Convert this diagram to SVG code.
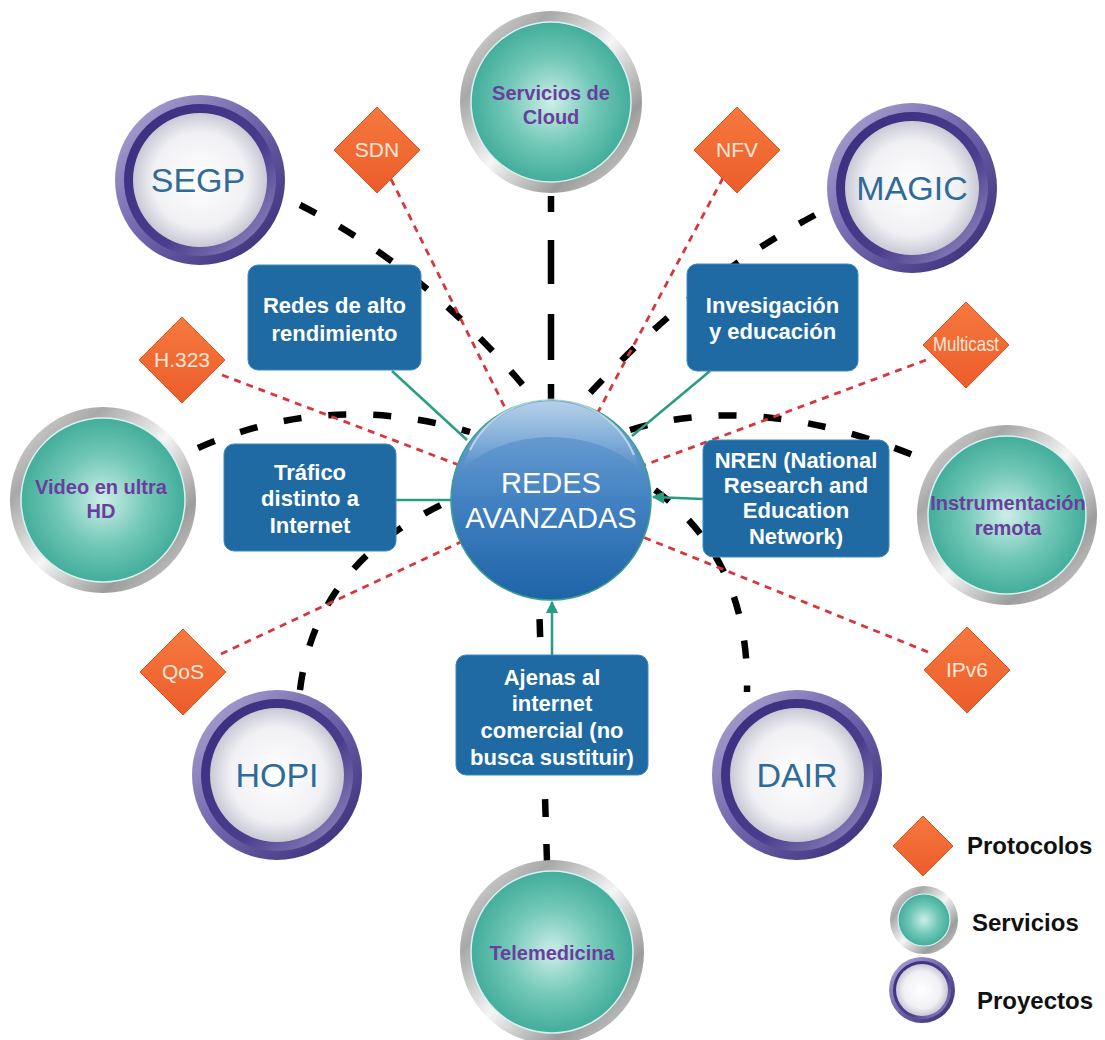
<svg xmlns="http://www.w3.org/2000/svg" width="1105" height="1040" viewBox="0 0 1105 1040">
  <defs>
    <linearGradient id="silver" x1="0" y1="0" x2="1" y2="1">
      <stop offset="0" stop-color="#e8e8e8"/>
      <stop offset="0.25" stop-color="#a8a8a8"/>
      <stop offset="0.5" stop-color="#f6f6f6"/>
      <stop offset="0.75" stop-color="#9c9c9c"/>
      <stop offset="1" stop-color="#dcdcdc"/>
    </linearGradient>
    <radialGradient id="teal" cx="0.5" cy="0.5" r="0.5">
      <stop offset="0" stop-color="#cdeee8"/>
      <stop offset="0.55" stop-color="#72c8b7"/>
      <stop offset="1" stop-color="#43ad9b"/>
    </radialGradient>
    <linearGradient id="purpleOuter" x1="0" y1="0" x2="1" y2="1">
      <stop offset="0" stop-color="#b3abd6"/>
      <stop offset="0.5" stop-color="#6e62aa"/>
      <stop offset="1" stop-color="#332571"/>
    </linearGradient>
    <linearGradient id="purpleInner" x1="0" y1="0" x2="1" y2="1">
      <stop offset="0" stop-color="#3a2c7d"/>
      <stop offset="0.6" stop-color="#4b3d8d"/>
      <stop offset="1" stop-color="#9d95c8"/>
    </linearGradient>
    <radialGradient id="pearl" cx="0.5" cy="0.5" r="0.5">
      <stop offset="0" stop-color="#ffffff"/>
      <stop offset="0.7" stop-color="#f1f1f5"/>
      <stop offset="1" stop-color="#c9c9d5"/>
    </radialGradient>
    <linearGradient id="hub" x1="0" y1="0" x2="0" y2="1">
      <stop offset="0" stop-color="#7aa9d8"/>
      <stop offset="0.5" stop-color="#4382c2"/>
      <stop offset="1" stop-color="#1d64a8"/>
    </linearGradient>
    <linearGradient id="gloss" x1="0" y1="0" x2="0" y2="1">
      <stop offset="0" stop-color="#ffffff" stop-opacity="0.45"/>
      <stop offset="1" stop-color="#ffffff" stop-opacity="0"/>
    </linearGradient>
    <linearGradient id="orange" x1="0" y1="0" x2="0" y2="1">
      <stop offset="0" stop-color="#f6793f"/>
      <stop offset="1" stop-color="#ec5c2a"/>
    </linearGradient>
    <marker id="arrow" viewBox="0 0 10 10" refX="9" refY="5" markerWidth="5" markerHeight="5" orient="auto">
      <path d="M0,0 L10,5 L0,10 z" fill="#2a9c82"/>
    </marker>
    <style>
      .blk { fill: none; stroke: #000; stroke-width: 6.5; stroke-dasharray: 18 27; }
      .red { fill: none; stroke: #d8353c; stroke-width: 2.8; stroke-dasharray: 7 6; }
      .grn { fill: none; stroke: #2a9c82; stroke-width: 2.5; }
      .box { fill: #1f6aa3; stroke: #3d88c0; stroke-width: 1; }
      .boxt { font-family: "Liberation Sans", Arial, sans-serif; font-weight: bold; font-size: 22px; fill: #ffffff; text-anchor: middle; }
      .svct { font-family: "Liberation Sans", Arial, sans-serif; font-weight: bold; font-size: 20px; fill: #6a3e9f; text-anchor: middle; }
      .prjt { font-family: "Liberation Sans", Arial, sans-serif; font-size: 34px; fill: #2f6b98; text-anchor: middle; }
      .dmt { font-family: "Liberation Sans", Arial, sans-serif; font-size: 21px; fill: #fde6d8; text-anchor: middle; }
      .dm { fill: url(#orange); stroke: #dc5522; stroke-width: 1; }
      .legt { font-family: "Liberation Sans", Arial, sans-serif; font-weight: bold; font-size: 24px; fill: #111; }
    </style>
  </defs>

  <rect width="1105" height="1040" fill="#ffffff"/>

  <!-- connectors -->
  <g id="connectors">
    <!-- black dashed links -->
    <path class="blk" d="M300,205 Q430,270 537,402"/>
    <path class="blk" d="M551,196 L551,402" style="stroke-dasharray: 16 28 44 30 46 24"/>
    <path class="blk" d="M815,215 Q690,282 580,404"/>
    <path class="blk" d="M198,448 Q330,390 470,432"/>
    <path class="blk" d="M630,430 Q760,390 925,460"/>
    <path class="blk" d="M300,690 Q315,565 445,503"/>
    <path class="blk" d="M655,490 Q750,560 747,692"/>
    <path class="blk" d="M547,862 L539,600"/>
    <!-- red dashed protocol links -->
    <path class="red" d="M391,179 L551,500"/>
    <path class="red" d="M723,178 L551,500"/>
    <path class="red" d="M222,375 L551,500"/>
    <path class="red" d="M926,360 L551,500"/>
    <path class="red" d="M221,654 L551,500"/>
    <path class="red" d="M928,652 L551,500"/>
    <!-- green links -->
    <path class="grn" d="M392,371 L467,440"/>
    <path class="grn" d="M710,371 L632,436"/>
    <path class="grn" d="M396,500 L455,500"/>
    <path class="grn" d="M703,499 L653,497" marker-end="url(#arrow)"/>
    <path class="grn" d="M552,655 L552,602" marker-end="url(#arrow)"/>
  </g>

  <!-- boxes -->
  <g id="box-redes">
    <rect class="box" x="248" y="265" width="173" height="105" rx="10"/>
    <text class="boxt" x="334.5" y="313">Redes de alto</text>
    <text class="boxt" x="334.5" y="341">rendimiento</text>
  </g>
  <g id="box-investigacion">
    <rect class="box" x="687" y="264" width="171" height="107" rx="10"/>
    <text class="boxt" x="772.5" y="313">Invesigación</text>
    <text class="boxt" x="772.5" y="339">y educación</text>
  </g>
  <g id="box-trafico">
    <rect class="box" x="224" y="444" width="172" height="107" rx="10"/>
    <text class="boxt" x="310" y="480">Tráfico</text>
    <text class="boxt" x="310" y="506">distinto a</text>
    <text class="boxt" x="310" y="533">Internet</text>
  </g>
  <g id="box-nren">
    <rect class="box" x="703" y="440" width="186" height="117" rx="10"/>
    <text class="boxt" x="796" y="468">NREN (National</text>
    <text class="boxt" x="796" y="493">Research and</text>
    <text class="boxt" x="796" y="518">Education</text>
    <text class="boxt" x="796" y="544">Network)</text>
  </g>
  <g id="box-ajenas">
    <rect class="box" x="456" y="655" width="192" height="120" rx="10"/>
    <text class="boxt" x="552" y="685">Ajenas al</text>
    <text class="boxt" x="552" y="711">internet</text>
    <text class="boxt" x="552" y="738">comercial (no</text>
    <text class="boxt" x="552" y="765">busca sustituir)</text>
  </g>

  <!-- central hub -->
  <g id="hub-redes-avanzadas">
    <circle cx="551" cy="500" r="100" fill="url(#hub)" stroke="#3aa08a" stroke-width="1.5"/>
    <path d="M462,470 A92,92 0 0 1 640,470 A110,80 0 0 0 462,470 z" fill="url(#gloss)"/>
    <path d="M470,450 A90,90 0 0 1 634,455" fill="none" stroke="#ffffff" stroke-opacity="0.55" stroke-width="2"/>
    <text x="551" y="493" font-family="Liberation Sans, Arial, sans-serif" font-size="29" fill="#ffffff" text-anchor="middle">REDES</text>
    <text x="551" y="528" font-family="Liberation Sans, Arial, sans-serif" font-size="29" fill="#ffffff" text-anchor="middle">AVANZADAS</text>
  </g>

  <!-- services -->
  <g id="svc-cloud">
    <circle cx="551" cy="102" r="91" fill="url(#silver)"/>
    <circle cx="551" cy="102" r="80" fill="url(#teal)" stroke="#d6f3ee" stroke-width="1.5"/>
    <text class="svct" x="551" y="100">Servicios de</text>
    <text class="svct" x="551" y="124">Cloud</text>
  </g>
  <g id="svc-video">
    <circle cx="103" cy="500" r="93" fill="url(#silver)"/>
    <circle cx="103" cy="500" r="82" fill="url(#teal)" stroke="#d6f3ee" stroke-width="1.5"/>
    <text class="svct" x="101" y="494">Video en ultra</text>
    <text class="svct" x="101" y="518">HD</text>
  </g>
  <g id="svc-instrumentacion">
    <circle cx="1007" cy="515" r="90" fill="url(#silver)"/>
    <circle cx="1007" cy="515" r="79" fill="url(#teal)" stroke="#d6f3ee" stroke-width="1.5"/>
    <text class="svct" x="1008" y="510">Instrumentación</text>
    <text class="svct" x="1008" y="535">remota</text>
  </g>
  <g id="svc-telemedicina">
    <circle cx="552" cy="952" r="92" fill="url(#silver)"/>
    <circle cx="552" cy="952" r="81" fill="url(#teal)" stroke="#d6f3ee" stroke-width="1.5"/>
    <text class="svct" x="552" y="960">Telemedicina</text>
  </g>

  <!-- projects -->
  <g id="prj-segp">
    <circle cx="200" cy="180" r="85" fill="url(#purpleOuter)"/>
    <circle cx="200" cy="180" r="76" fill="url(#purpleInner)"/>
    <circle cx="200" cy="180" r="67" fill="url(#pearl)"/>
    <text class="prjt" x="198" y="192">SEGP</text>
  </g>
  <g id="prj-magic">
    <circle cx="912" cy="188" r="85" fill="url(#purpleOuter)"/>
    <circle cx="912" cy="188" r="76" fill="url(#purpleInner)"/>
    <circle cx="912" cy="188" r="67" fill="url(#pearl)"/>
    <text class="prjt" x="912" y="200">MAGIC</text>
  </g>
  <g id="prj-hopi">
    <circle cx="277" cy="775" r="85" fill="url(#purpleOuter)"/>
    <circle cx="277" cy="775" r="76" fill="url(#purpleInner)"/>
    <circle cx="277" cy="775" r="67" fill="url(#pearl)"/>
    <text class="prjt" x="277" y="787">HOPI</text>
  </g>
  <g id="prj-dair">
    <circle cx="797" cy="775" r="85" fill="url(#purpleOuter)"/>
    <circle cx="797" cy="775" r="76" fill="url(#purpleInner)"/>
    <circle cx="797" cy="775" r="67" fill="url(#pearl)"/>
    <text class="prjt" x="797" y="787">DAIR</text>
  </g>

  <!-- protocols -->
  <g id="prot-sdn">
    <polygon class="dm" points="377,107 420,150 377,193 334,150"/>
    <text class="dmt" x="377" y="157">SDN</text>
  </g>
  <g id="prot-nfv">
    <polygon class="dm" points="737,107 780,150 737,193 694,150"/>
    <text class="dmt" x="737" y="157">NFV</text>
  </g>
  <g id="prot-h323">
    <polygon class="dm" points="182,317 225,360 182,403 139,360"/>
    <text class="dmt" x="182" y="367">H.323</text>
  </g>
  <g id="prot-multicast">
    <polygon class="dm" points="966,302 1009,345 966,388 923,345"/>
    <text class="dmt" x="966" y="351" font-size="16" textLength="66" lengthAdjust="spacingAndGlyphs">Multicast</text>
  </g>
  <g id="prot-qos">
    <polygon class="dm" points="183,629 226,672 183,715 140,672"/>
    <text class="dmt" x="183" y="679">QoS</text>
  </g>
  <g id="prot-ipv6">
    <polygon class="dm" points="967,627 1010,670 967,713 924,670"/>
    <text class="dmt" x="967" y="677">IPv6</text>
  </g>

  <!-- legend -->
  <g id="legend">
    <polygon class="dm" points="923,816 953,846 923,876 893,846"/>
    <text class="legt" x="967" y="854">Protocolos</text>
    <circle cx="924" cy="920" r="34" fill="url(#silver)"/>
    <circle cx="924" cy="920" r="26" fill="url(#teal)" stroke="#d6f3ee" stroke-width="1.2"/>
    <text class="legt" x="972" y="931">Servicios</text>
    <circle cx="922" cy="990" r="33" fill="url(#purpleOuter)"/>
    <circle cx="922" cy="990" r="29" fill="url(#purpleInner)"/>
    <circle cx="922" cy="990" r="26" fill="url(#pearl)"/>
    <text class="legt" x="977" y="1009">Proyectos</text>
  </g>
</svg>
